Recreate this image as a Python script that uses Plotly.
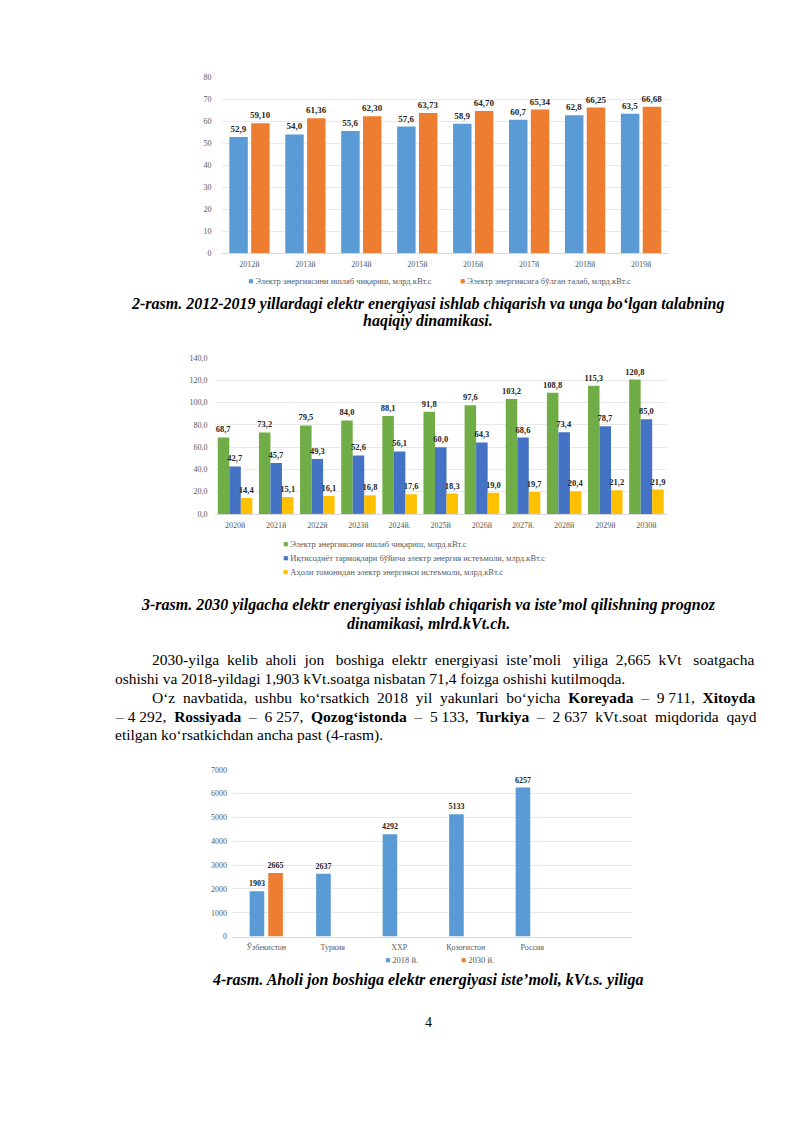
import plotly.graph_objects as go

# ---------------- data ----------------
years1 = ["2012й", "2013й", "2014й", "2015й", "2016й", "2017й", "2018й", "2019й"]
prod1 = [52.9, 54.0, 55.6, 57.6, 58.9, 60.7, 62.8, 63.5]
demand1 = [59.10, 61.36, 62.30, 63.73, 64.70, 65.34, 66.25, 66.68]
legend1 = ["Электр энергиясини ишлаб чиқариш, млрд.кВт.с",
           "Электр энергиясига бўлган талаб, млрд.кВт.с"]

years2 = ["2020й", "2021й", "2022й", "2023й", "2024й.", "2025й", "2026й",
          "2027й.", "2028й", "2029й", "2030й"]
prod2 = [68.7, 73.2, 79.5, 84.0, 88.1, 91.8, 97.6, 103.2, 108.8, 115.3, 120.8]
econ2 = [42.7, 45.7, 49.3, 52.6, 56.1, 60.0, 64.3, 68.6, 73.4, 78.7, 85.0]
house2 = [14.4, 15.1, 16.1, 16.8, 17.6, 18.3, 19.0, 19.7, 20.4, 21.2, 21.9]
legend2 = ["Электр энергиясини ишлаб чиқариш, млрд.кВт.с",
           "Иқтисодиёт тармоқлари бўйича электр энергия истеъмоли, млрд.кВт.с",
           "Аҳоли томонидан электр энергияси истеъмоли, млрд.кВт.с"]
ticks2 = [0, 20, 40, 60, 80, 100, 120, 140]
ticktext2 = ["0,0", "20,0", "40,0", "60,0", "80,0", "100,0", "120,0", "140,0"]

countries = ["Ўзбекистон", "Туркия", "ХХР", "Қозоғистон", "Россия"]
v2018 = [1903, 2637, 4292, 5133, 6257]
v2030 = [2665, None, None, None, None]
legend3 = ["2018 й.", "2030 й."]

captions = {
    "c2a": "2-rasm. 2012-2019 yillardagi elektr energiyasi ishlab chiqarish va unga bo‘lgan talabning",
    "c2b": "haqiqiy dinamikasi.",
    "c3a": "3-rasm. 2030 yilgacha elektr energiyasi ishlab chiqarish va iste’mol qilishning prognoz",
    "c3b": "dinamikasi, mlrd.kVt.ch.",
    "c4": "4-rasm. Aholi jon boshiga elektr energiyasi iste’moli, kVt.s. yiliga",
}
body = [
    "2030-yilga kelib aholi jon boshiga elektr energiyasi iste’moli yiliga 2,665 kVt soatgacha",
    "oshishi va 2018-yildagi 1,903 kVt.soatga nisbatan 71,4 foizga oshishi kutilmoqda.",
    "O‘z navbatida, ushbu ko‘rsatkich 2018 yil yakunlari bo‘yicha <b>Koreyada</b> – 9 711, <b>Xitoyda</b>",
    "– 4 292, <b>Rossiyada</b> – 6 257, <b>Qozog‘istonda</b> – 5 133, <b>Turkiya</b> – 2 637 kVt.soat miqdorida qayd",
    "etilgan ko‘rsatkichdan ancha past (4-rasm).",
]

# ---------------- helpers ----------------
W, H = 800, 1131
def fy(p):
    return 1 - p / H
def fx(p):
    return p / W

def fmt(v, d):
    return ("{:." + str(d) + "f}").format(v).replace(".", ",")

def justify(line, extra):
    """Widen word gaps with non-breaking spaces (approximate justification).
    Gaps inside numbers like '9 711' are left alone."""
    words = line.split(" ")
    if extra <= 0 or len(words) < 2:
        return line
    eligible = [i for i in range(len(words) - 1)
                if not (words[i].isdigit() and words[i + 1][:1].isdigit())]
    n = len(eligible)
    add_at = {}
    for j, i in enumerate(eligible):
        add_at[i] = (extra * (j + 1)) // n - (extra * j) // n
    out = words[0]
    for i in range(len(words) - 1):
        out += " " + "\u00a0" * add_at.get(i, 0) + words[i + 1]
    return out

SERIF = "Times New Roman, Liberation Serif, serif"
GRAY = "#595959"

BLUE, ORANGE = "#5B9BD5", "#ED7D31"
GREEN, DBLUE, YELLOW = "#70AD47", "#4472C4", "#FFC000"

fig = go.Figure()

def bar(x, y, color, off, w, xa, ya, dec, fs):
    txt = [("<b>" + fmt(v, dec) + "</b>") if v is not None else "" for v in y]
    fig.add_trace(go.Bar(
        x=x, y=y, marker=dict(color=color, line=dict(width=0)),
        offset=off, width=w, xaxis=xa, yaxis=ya,
        text=txt, textposition="outside",
        textfont=dict(family=SERIF, size=fs, color="#262626"), constraintext="none",
        cliponaxis=False, showlegend=False, hoverinfo="x+y"))

# chart 1
bar(years1, prod1, BLUE, -0.36, 0.33, "x", "y", 1, 9)
bar(years1, demand1, ORANGE, 0.03, 0.33, "x", "y", 2, 9)
# chart 2
bar(years2, prod2, GREEN, -0.42, 0.28, "x2", "y2", 1, 8.5)
bar(years2, econ2, DBLUE, -0.14, 0.28, "x2", "y2", 1, 8.5)
bar(years2, house2, YELLOW, 0.14, 0.28, "x2", "y2", 1, 8.5)
# chart 3
bar(countries, v2018, BLUE, -0.25, 0.22, "x3", "y3", 0, 8)
bar(countries, v2030, ORANGE, 0.03, 0.22, "x3", "y3", 0, 8)

tickfont = dict(family=SERIF, size=8, color=GRAY)
xcommon = dict(type="category", tickfont=tickfont, showgrid=False, ticks="",
               showline=True, linecolor="#D9D9D9", linewidth=1, zeroline=False,
               ticklabelstandoff=3)
ycommon = dict(tickfont=tickfont, showgrid=True, gridcolor="#E9E9E9", gridwidth=1,
               zeroline=False, showline=False, ticks="")

fig.update_layout(
    width=W, height=H, margin=dict(l=0, r=0, t=0, b=0),
    paper_bgcolor="white", plot_bgcolor="white",
    font=dict(family=SERIF),
    barmode="overlay", showlegend=False,
    xaxis=dict(domain=[fx(221.5), fx(669)], anchor="y", range=[-0.5, 7.5], **xcommon),
    yaxis=dict(domain=[fy(251), fy(74)], anchor="x", range=[0, 80], dtick=10,
               ticklabelstandoff=9, **ycommon),
    xaxis2=dict(domain=[fx(214.5), fx(667)], anchor="y2", range=[-0.5, 10.5], **xcommon),
    yaxis2=dict(domain=[fy(514), fy(357)], anchor="x2", range=[0, 140],
                tickvals=ticks2, ticktext=ticktext2, ticklabelstandoff=6, **ycommon),
    xaxis3=dict(domain=[fx(233), fx(632)], anchor="y3", range=[-0.5, 5.5], **xcommon),
    yaxis3=dict(domain=[fy(940), fy(772)], anchor="x3", range=[0, 7000], dtick=1000,
                ticklabelstandoff=5, **ycommon),
)

ann = []
def add(text, x, y, size, anchor="center", color="black"):
    ann.append(dict(text=text, x=fx(x), y=fy(y), xref="paper", yref="paper",
                    xanchor=anchor, yanchor="middle", showarrow=False,
                    font=dict(family=SERIF, size=size, color=color)))

def leg(color, label, x, y):
    add("<span style='color:%s'>■</span> %s" % (color, label), x, y, 8.5, "left", GRAY)

leg(BLUE, legend1[0], 246, 279)
leg(ORANGE, legend1[1], 458, 279)
leg(GREEN, legend2[0], 281, 544)
leg(DBLUE, legend2[1], 281, 558)
leg(YELLOW, legend2[2], 281, 573)
leg(BLUE, legend3[0], 383, 964)
leg(ORANGE, legend3[1], 459, 964)

cap = lambda t: "<b><i>" + t + "</i></b>"
add(cap(captions["c2a"]), 428, 302, 16)
add(cap(captions["c2b"]), 428, 320, 16)
add(cap(captions["c3a"]), 428, 606, 16)
add(cap(captions["c3b"]), 428, 624, 16)
add(cap(captions["c4"]), 428, 984, 16)

body_x = [150, 113, 150, 113, 113]
body_y = [661, 680, 699, 718, 737]
body_extra = [14, 0, 11, 12, 0]
for t, x, y, e in zip(body, body_x, body_y, body_extra):
    add(justify(t, e), x, y, 15.5, "left")

add("4", 428, 1027, 14)

fig.update_layout(annotations=ann)
fig.write_html("out.html", config={"displayModeBar": False},
               post_script="document.body.style.margin='0';")
